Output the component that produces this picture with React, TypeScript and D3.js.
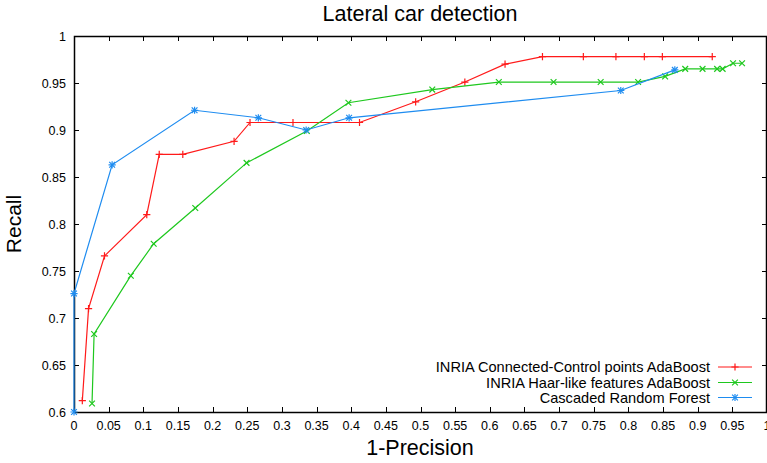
import React, { useEffect, useRef } from "react";
import * as d3 from "d3";

const xTicks = [0, 0.05, 0.1, 0.15, 0.2, 0.25, 0.3, 0.35, 0.4, 0.45, 0.5, 0.55, 0.6, 0.65, 0.7, 0.75, 0.8, 0.85, 0.9, 0.95, 1];
const yTicks = [0.6, 0.65, 0.7, 0.75, 0.8, 0.85, 0.9, 0.95, 1];

const seriesNames = [
  "INRIA Connected-Control points AdaBoost",
  "INRIA Haar-like features AdaBoost",
  "Cascaded Random Forest",
];

const redX = [0.012, 0.021, 0.044, 0.105, 0.123, 0.157, 0.231, 0.254, 0.316, 0.412, 0.493, 0.564, 0.622, 0.676, 0.735, 0.782, 0.823, 0.849, 0.921];
const redY = [0.612, 0.71, 0.766, 0.81, 0.874, 0.874, 0.888, 0.908, 0.908, 0.908, 0.93, 0.951, 0.97, 0.978, 0.978, 0.978, 0.978, 0.978, 0.978];

const greenX = [0.026, 0.029, 0.082, 0.115, 0.175, 0.249, 0.336, 0.396, 0.517, 0.613, 0.692, 0.76, 0.814, 0.853, 0.882, 0.907, 0.928, 0.936, 0.951, 0.964];
const greenY = [0.609, 0.683, 0.745, 0.779, 0.817, 0.865, 0.899, 0.929, 0.943, 0.951, 0.951, 0.951, 0.951, 0.957, 0.965, 0.965, 0.965, 0.965, 0.971, 0.971];

const blueX = [0, 0, 0.055, 0.174, 0.266, 0.335, 0.397, 0.789, 0.867];
const blueY = [0.6, 0.726, 0.863, 0.921, 0.913, 0.9, 0.913, 0.942, 0.964];

const App = () => {
  const svgRef = useRef(null);

  useEffect(() => {
    const w = 767;
    const h = 463;
    const left = 74, right = 767, top = 36, bottom = 412;
    const font = "'Liberation Sans', Arial, sans-serif";

    const svg = d3.select(svgRef.current).attr("width", w).attr("height", h);
    svg.selectAll("*").remove();

    const x = d3.scaleLinear().domain([0, 1]).range([left, right]);
    const y = d3.scaleLinear().domain([0.6, 1]).range([bottom, top]);

    svg.append("rect").attr("width", w).attr("height", h).attr("fill", "#fff");

    // title + axis labels
    svg.append("text")
      .attr("x", 420).attr("y", 21)
      .attr("text-anchor", "middle")
      .attr("font-family", font).attr("font-size", 21.5)
      .text("Lateral car detection");

    svg.append("text")
      .attr("x", 420).attr("y", 455)
      .attr("text-anchor", "middle")
      .attr("font-family", font).attr("font-size", 21.5)
      .text("1-Precision");

    svg.append("text")
      .attr("transform", `translate(21, ${(top + bottom) / 2}) rotate(-90)`)
      .attr("text-anchor", "middle")
      .attr("font-family", font).attr("font-size", 21)
      .text("Recall");

    // ticks (inward, mirrored)
    const tk = 5;
    const g = svg.append("g").attr("stroke", "#000").attr("stroke-width", 1);
    xTicks.forEach(t => {
      const px = Math.round(x(t)) + 0.5;
      g.append("line").attr("x1", px).attr("x2", px).attr("y1", bottom).attr("y2", bottom - tk);
      g.append("line").attr("x1", px).attr("x2", px).attr("y1", top).attr("y2", top + tk);
    });
    yTicks.forEach(t => {
      const py = Math.round(y(t)) + 0.5;
      g.append("line").attr("x1", left).attr("x2", left + tk).attr("y1", py).attr("y2", py);
      g.append("line").attr("x1", right).attr("x2", right - tk).attr("y1", py).attr("y2", py);
    });

    svg.append("g")
      .selectAll("text")
      .data(xTicks)
      .join("text")
      .attr("x", d => x(d))
      .attr("y", 430)
      .attr("text-anchor", "middle")
      .attr("font-family", font).attr("font-size", 12.5)
      .attr("fill", "#000")
      .text(d => String(d));

    svg.append("g")
      .selectAll("text")
      .data(yTicks)
      .join("text")
      .attr("x", 66)
      .attr("y", d => y(d) + 4.5)
      .attr("text-anchor", "end")
      .attr("font-family", font).attr("font-size", 12.5)
      .attr("fill", "#000")
      .text(d => String(d));

    // frame
    svg.append("rect")
      .attr("x", left + 0.5).attr("y", top + 0.5)
      .attr("width", right - left - 1).attr("height", bottom - top)
      .attr("fill", "none").attr("stroke", "#000").attr("stroke-width", 1.5);

    const ms = 3.6;
    const plus = (sel, cx, cy) => {
      sel.append("path").attr("d", `M${cx - ms},${cy}H${cx + ms}M${cx},${cy - ms}V${cy + ms}`);
    };
    const cross = (sel, cx, cy) => {
      const s = ms * 0.8;
      sel.append("path").attr("d", `M${cx - s},${cy - s}L${cx + s},${cy + s}M${cx - s},${cy + s}L${cx + s},${cy - s}`);
    };
    const star = (sel, cx, cy) => { plus(sel, cx, cy); cross(sel, cx, cy); };

    const series = [
      { xs: redX, ys: redY, color: "#ff1a1a", mark: plus },
      { xs: greenX, ys: greenY, color: "#1ec81e", mark: cross },
      { xs: blueX, ys: blueY, color: "#1e8cf0", mark: star },
    ];

    const line = d3.line().x(d => x(d[0])).y(d => y(d[1]));

    series.forEach(s => {
      const pts = s.xs.map((v, i) => [v, s.ys[i]]);
      svg.append("path")
        .datum(pts)
        .attr("fill", "none")
        .attr("stroke", s.color)
        .attr("stroke-width", 1.2)
        .attr("d", line);
      const mg = svg.append("g").attr("stroke", s.color).attr("stroke-width", 1.2).attr("fill", "none");
      pts.forEach(p => s.mark(mg, x(p[0]), y(p[1])));
    });

    // legend
    const legY = [367, 382.5, 397.5];
    series.forEach((s, i) => {
      svg.append("text")
        .attr("x", 710).attr("y", legY[i] + 5)
        .attr("text-anchor", "end")
        .attr("font-family", font).attr("font-size", 14.6)
        .text(seriesNames[i]);
      svg.append("line")
        .attr("x1", 718).attr("x2", 752)
        .attr("y1", legY[i]).attr("y2", legY[i])
        .attr("stroke", s.color).attr("stroke-width", 1.2);
      const mg = svg.append("g").attr("stroke", s.color).attr("stroke-width", 1.2).attr("fill", "none");
      s.mark(mg, 735, legY[i]);
    });
  }, []);

  return <svg ref={svgRef} style={{ position: "absolute", left: 0, top: 0 }} />;
};

export default App;
